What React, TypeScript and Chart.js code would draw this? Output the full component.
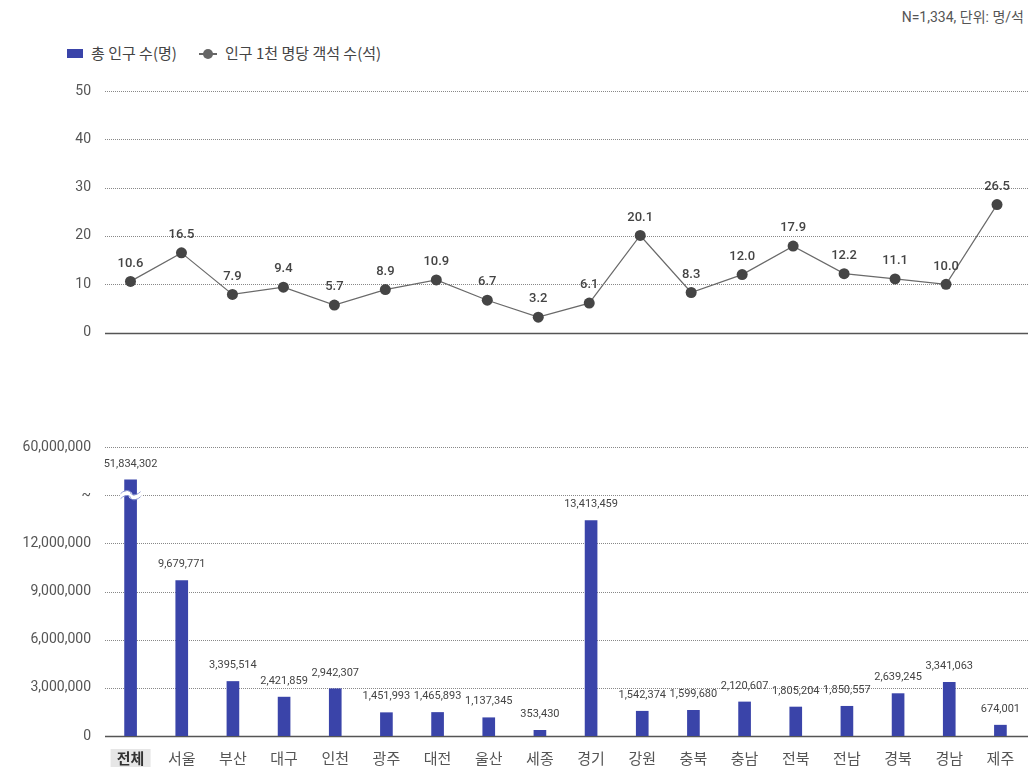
import React, { useEffect, useRef } from 'react';
import { Chart, registerables } from 'chart.js';
Chart.register(...registerables);

const categories = ['전체', '서울', '부산', '대구', '인천', '광주', '대전', '울산', '세종', '경기', '강원', '충북', '충남', '전북', '전남', '경북', '경남', '제주'];
const seatsPer1000 = [10.6, 16.5, 7.9, 9.4, 5.7, 8.9, 10.9, 6.7, 3.2, 6.1, 20.1, 8.3, 12.0, 17.9, 12.2, 11.1, 10.0, 26.5];
const population = [51834302, 9679771, 3395514, 2421859, 2942307, 1451993, 1465893, 1137345, 353430, 13413459, 1542374, 1599680, 2120607, 1805204, 1850557, 2639245, 3341063, 674001];
const topTickMax = 50;
const topTickStep = 10;
const bottomTickLabels = ['0', '3,000,000', '6,000,000', '9,000,000', '12,000,000', '~', '60,000,000'];

// axis break: linear 0..15M, then the upper segment 48M..60M is squeezed into one step
const STEP = 3000000;
const AXIS_BREAK = 15000000;
const UPPER_FROM = 48000000;
const UPPER_TO = 60000000;
const toAxis = (v: number) => (v <= AXIS_BREAK ? v : AXIS_BREAK + ((v - UPPER_FROM) / (UPPER_TO - UPPER_FROM)) * STEP);

const BLUE = '#3a44a9';
const FONT = 'Roboto, "Noto Sans CJK KR", sans-serif';
const KFONT = '"Noto Sans CJK KR", Roboto, sans-serif';
const fmt = (n: number) => n.toLocaleString('en-US');

function gridPlugin(id: string) {
  return {
    id,
    beforeDatasetsDraw(chart: any) {
      const y = chart.scales.y;
      const { left } = chart.chartArea;
      const ctx = chart.ctx;
      ctx.save();
      y.ticks.forEach((t: any) => {
        const py = Math.round(y.getPixelForValue(t.value)) + 0.5;
        if (t.value === 0) {
          ctx.setLineDash([]);
          ctx.strokeStyle = '#555';
          ctx.lineWidth = 1.5;
        } else {
          ctx.setLineDash([1, 1]);
          ctx.strokeStyle = '#888';
          ctx.lineWidth = 1;
        }
        ctx.beginPath();
        ctx.moveTo(left, py);
        ctx.lineTo(chart.width, py);
        ctx.stroke();
      });
      ctx.restore();
    },
  };
}

const lineLabelPlugin = {
  id: 'lineLabels',
  afterDatasetsDraw(chart: any) {
    const ctx = chart.ctx;
    const meta = chart.getDatasetMeta(0);
    ctx.save();
    ctx.font = `500 13px ${FONT}`;
    ctx.fillStyle = '#444';
    ctx.textAlign = 'center';
    ctx.textBaseline = 'middle';
    meta.data.forEach((pt: any, i: number) => {
      ctx.fillText(seatsPer1000[i].toFixed(1), pt.x, pt.y - 18);
    });
    ctx.restore();
  },
};

const barDecorPlugin = {
  id: 'barDecor',
  beforeDraw(chart: any) {
    const ctx = chart.ctx;
    const x = chart.scales.x.getPixelForValue(0);
    const cy = chart.chartArea.bottom + 22;
    ctx.save();
    ctx.fillStyle = '#e6e6e6';
    ctx.fillRect(x - 20, cy - 9, 40, 18);
    ctx.restore();
  },
  afterDatasetsDraw(chart: any) {
    const ctx = chart.ctx;
    const meta = chart.getDatasetMeta(0);
    ctx.save();
    ctx.font = `11px ${FONT}`;
    ctx.fillStyle = '#444';
    ctx.textAlign = 'center';
    ctx.textBaseline = 'middle';
    meta.data.forEach((bar: any, i: number) => {
      ctx.fillText(fmt(population[i]), bar.x, bar.y - 16);
    });
    // break squiggle on the first bar
    const b0 = meta.data[0];
    const yb = chart.scales.y.getPixelForValue(AXIS_BREAK);
    const half = b0.width / 2 + 4;
    const wave = (off: number) => {
      ctx.beginPath();
      ctx.moveTo(b0.x - half, yb + off + 1);
      ctx.bezierCurveTo(b0.x - half / 2, yb + off - 4, b0.x, yb + off - 2, b0.x, yb + off);
      ctx.bezierCurveTo(b0.x, yb + off + 2, b0.x + half / 2, yb + off + 4, b0.x + half, yb + off - 1);
      ctx.stroke();
    };
    ctx.strokeStyle = '#fff';
    ctx.lineWidth = 4;
    wave(0);
    ctx.strokeStyle = '#8f9ad6';
    ctx.lineWidth = 1;
    wave(-2.5);
    wave(2.5);
    ctx.restore();
  },
};

export default function App() {
  const topRef = useRef<HTMLCanvasElement>(null);
  const botRef = useRef<HTMLCanvasElement>(null);

  useEffect(() => {
    const top = new Chart(topRef.current as HTMLCanvasElement, {
      type: 'line',
      data: {
        labels: categories,
        datasets: [
          {
            label: '인구 1천 명당 객석 수(석)',
            data: seatsPer1000,
            borderColor: '#6a6a6a',
            borderWidth: 1.2,
            pointRadius: 5.5,
            pointBackgroundColor: '#454545',
            pointBorderWidth: 0,
            tension: 0,
          },
        ],
      },
      options: {
        animation: false,
        responsive: false,
        maintainAspectRatio: false,
        layout: { padding: { top: 91, bottom: 3, left: 0, right: 2 } },
        plugins: { legend: { display: false }, tooltip: { enabled: false } },
        scales: {
          x: { type: 'category', offset: true, display: false },
          y: {
            min: 0,
            max: topTickMax,
            ticks: { stepSize: topTickStep, color: '#555', font: { family: FONT, size: 14 }, padding: 14 },
            grid: { display: false, drawTicks: false },
            border: { display: false },
            afterFit: (s: any) => { s.width = 105; },
          },
        },
      },
      plugins: [gridPlugin('topGrid'), lineLabelPlugin],
    });

    const bottom = new Chart(botRef.current as HTMLCanvasElement, {
      type: 'bar',
      data: {
        labels: categories,
        datasets: [
          {
            label: '총 인구 수(명)',
            data: population.map(toAxis),
            backgroundColor: BLUE,
            barThickness: 12,
          },
        ],
      },
      options: {
        animation: false,
        responsive: false,
        maintainAspectRatio: false,
        layout: { padding: { top: 47, bottom: 0, left: 0, right: 2 } },
        plugins: { legend: { display: false }, tooltip: { enabled: false } },
        scales: {
          x: {
            type: 'category',
            offset: true,
            grid: { display: false, drawTicks: false },
            border: { display: false },
            ticks: {
              padding: 13,
              color: (c: any) => (c.index === 0 ? '#333' : '#555'),
              font: (c: any) => ({ family: KFONT, size: 15, weight: c.index === 0 ? 'bold' : 'normal' }),
            },
            afterFit: (s: any) => { s.height = 35; },
          },
          y: {
            min: 0,
            max: STEP * 6,
            ticks: {
              stepSize: STEP,
              color: '#555',
              font: { family: FONT, size: 14 },
              padding: 14,
              callback: (_v: any, i: number) => bottomTickLabels[i],
            },
            grid: { display: false, drawTicks: false },
            border: { display: false },
            afterFit: (s: any) => { s.width = 105; },
          },
        },
      },
      plugins: [gridPlugin('botGrid'), barDecorPlugin],
    });

    return () => {
      top.destroy();
      bottom.destroy();
    };
  }, []);

  const txt: React.CSSProperties = { position: 'absolute', fontFamily: KFONT, fontSize: 15, color: '#444', lineHeight: '20px', whiteSpace: 'nowrap' };

  return (
    <div style={{ position: 'absolute', left: 0, top: 0, width: 1028, height: 771, background: '#fff', overflow: 'hidden' }}>
      <div style={{ position: 'absolute', right: 4, top: 7, fontFamily: FONT, fontSize: 14, color: '#555', lineHeight: '20px', whiteSpace: 'nowrap' }}>
        N=1,334, 단위: 명/석
      </div>
      <div style={{ position: 'absolute', left: 67, top: 49, width: 16, height: 9, background: BLUE }} />
      <div style={{ ...txt, left: 91, top: 43 }}>총 인구 수(명)</div>
      <div style={{ position: 'absolute', left: 199, top: 53, width: 18, height: 1.5, background: '#666' }} />
      <div style={{ position: 'absolute', left: 203, top: 49, width: 10, height: 10, borderRadius: 5, background: '#666' }} />
      <div style={{ ...txt, left: 225, top: 43 }}>인구 1천 명당 객석 수(석)</div>
      <canvas ref={topRef} width={1028} height={355} style={{ position: 'absolute', left: 0, top: 0, width: 1028, height: 355 }} />
      <canvas ref={botRef} width={1028} height={371} style={{ position: 'absolute', left: 0, top: 400, width: 1028, height: 371 }} />
    </div>
  );
}
